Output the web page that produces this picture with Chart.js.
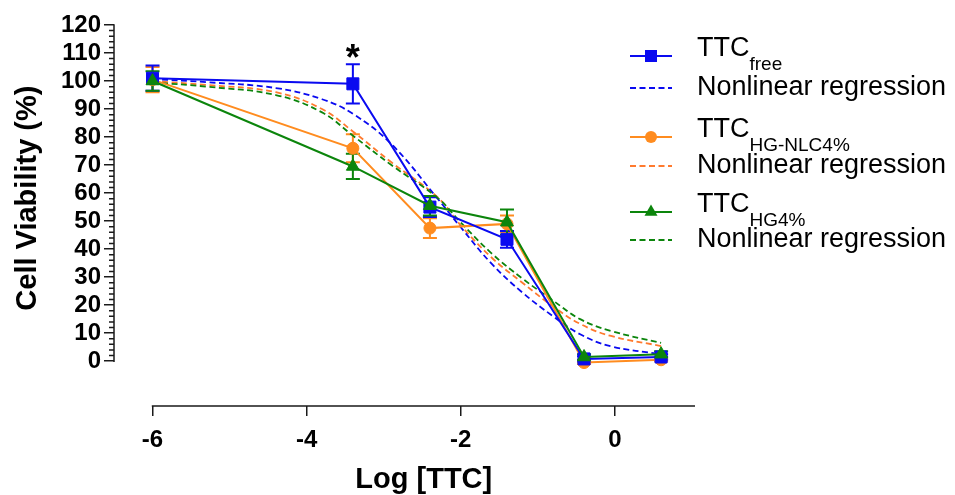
<!DOCTYPE html>
<html>
<head>
<meta charset="utf-8">
<script src="https://cdn.jsdelivr.net/npm/chart.js@4.4.1/dist/chart.umd.min.js"></script>
<style>
  html, body { margin: 0; padding: 0; background: #fff; }
  #wrap { width: 955px; height: 495px; }
</style>
</head>
<body>
<div id="wrap"><canvas id="myChart"></canvas></div>
<script>
// measured points, x = log10 of TTC concentration
const doseX = [-6, -3.4, -2.4, -1.4, -0.4, 0.6];
const freeY = [101, 99, 55, 43.5, 0.8, 1.5];
const freeErr = [4.5, 7, 3.5, 3, 1, 1];
const nlcY = [100.5, 76, 47.5, 49, -0.5, 0.5];
const nlcErr = [4.5, 5, 3.5, 3, 0.5, 0.5];
const hgY = [100, 69.5, 55.5, 49.6, 1.5, 2.5];
const hgErr = [3.5, 4.5, 3.5, 4.5, 1, 1];

// nonlinear regression curves
const fitX = [-6, -5.3, -4.4, -3.8, -3.4, -2.9, -2.3, -2.0, -1.6, -1.2, -0.8, -0.45, -0.05, 0.6];
const freeFit = [100.7, 99.6, 97.5, 93.5, 88.3, 77.5, 58, 47.8, 34.8, 24.5, 16, 9.6, 5.3, 2.5];
const nlcFit = [100, 98.6, 96, 90, 82, 71, 58.5, 48.5, 37, 28, 19.5, 13.3, 9, 5.4];
const hgFit = [99.5, 98, 95, 88.8, 80.5, 70, 58.3, 49.5, 38.5, 29.5, 21.6, 15, 10.8, 6.5];

const xTicks = [-6, -4, -2, 0];
const yTicks = [0, 10, 20, 30, 40, 50, 60, 70, 80, 90, 100, 110, 120];
const yMinorStep = 2;

const seriesNames = ["free", "HG-NLC4%", "HG4%"];
const fitName = "Nonlinear regression";
const starMarks = [{ x: -3.4, y: 106, text: "*" }];

const BLUE = "#0a0af0";
const ORANGE = "#ff8c1f";
const ORANGE_FIT = "#ff7a2e";
const GREEN = "#0c850c";
const FONT = "'Liberation Sans', Arial, sans-serif";

const pts = (xs, ys) => xs.map((x, i) => ({ x, y: ys[i] }));

const pointSet = (label, ys, err, color, style, radius) => ({
  label,
  data: pts(doseX, ys),
  err,
  borderColor: color,
  backgroundColor: color,
  borderWidth: 2,
  pointStyle: style,
  pointRadius: radius,
  pointBorderWidth: 1,
  tension: 0,
});

const fitSet = (ys, color) => ({
  label: fitName,
  data: pts(fitX, ys),
  borderColor: color,
  borderWidth: 1.8,
  borderDash: [6, 3.5],
  pointRadius: 0,
  tension: 0.4,
});

// first dataset is drawn on top
const datasets = [
  pointSet("TTC HG4%", hgY, hgErr, GREEN, "triangle", 7.5),
  pointSet("TTC free", freeY, freeErr, BLUE, "rect", 8.5),
  pointSet("TTC HG-NLC4%", nlcY, nlcErr, ORANGE, "circle", 6),
  fitSet(hgFit, GREEN),
  fitSet(freeFit, BLUE),
  fitSet(nlcFit, ORANGE_FIT),
];

const errorBars = {
  id: "errorBars",
  beforeDatasetsDraw(chart) {
    const { ctx, scales: { x, y } } = chart;
    [2, 1, 0].forEach((i) => {
      const ds = chart.data.datasets[i];
      ctx.save();
      ctx.strokeStyle = ds.borderColor;
      ctx.lineWidth = 2;
      ds.data.forEach((p, j) => {
        const e = ds.err[j];
        const px = x.getPixelForValue(p.x);
        const top = y.getPixelForValue(p.y + e);
        const bot = y.getPixelForValue(p.y - e);
        ctx.beginPath();
        ctx.moveTo(px, top);
        ctx.lineTo(px, bot);
        ctx.moveTo(px - 7, top);
        ctx.lineTo(px + 7, top);
        ctx.moveTo(px - 7, bot);
        ctx.lineTo(px + 7, bot);
        ctx.stroke();
      });
      ctx.restore();
    });
  },
};

// prism style axes: lines only over the tick range, minor ticks on y
const axisLines = {
  id: "axisLines",
  afterDraw(chart) {
    const { ctx, chartArea, scales: { x, y } } = chart;
    const y0 = y.getPixelForValue(yTicks[0]);
    const y1 = y.getPixelForValue(yTicks[yTicks.length - 1]);
    ctx.save();
    ctx.strokeStyle = "#1a1a1a";
    ctx.lineWidth = 1.5;
    ctx.beginPath();
    ctx.moveTo(chartArea.left, y0 + 0.75);
    ctx.lineTo(chartArea.left, y1 - 0.75);
    ctx.moveTo(x.getPixelForValue(xTicks[0]) - 0.75, chartArea.bottom);
    ctx.lineTo(chartArea.right, chartArea.bottom);
    for (let v = yTicks[0]; v < yTicks[yTicks.length - 1]; v += yMinorStep) {
      if (v % 10 === 0) continue;
      const py = y.getPixelForValue(v);
      ctx.moveTo(chartArea.left - 5, py);
      ctx.lineTo(chartArea.left, py);
    }
    ctx.stroke();

    // axis titles centred on the drawn axis lines
    ctx.fillStyle = "#000";
    ctx.font = `bold 29px ${FONT}`;
    ctx.textAlign = "center";
    ctx.textBaseline = "middle";
    const xMid = (x.getPixelForValue(xTicks[0]) + chartArea.right) / 2;
    ctx.fillText("Log [TTC]", xMid, 480);
    ctx.translate(28, (y0 + y1) / 2 + 5);
    ctx.rotate(-Math.PI / 2);
    ctx.fillText("Cell Viability (%)", 0, 0);
    ctx.restore();

    // significance marks
    ctx.save();
    ctx.font = `bold 36px ${FONT}`;
    ctx.textAlign = "center";
    ctx.textBaseline = "alphabetic";
    ctx.fillStyle = "#000";
    starMarks.forEach((m) => {
      ctx.fillText(m.text, x.getPixelForValue(m.x), y.getPixelForValue(m.y) + 6);
    });
    ctx.restore();
  },
};

const drawMarker = (ctx, style, color, cx, cy) => {
  ctx.fillStyle = color;
  ctx.beginPath();
  if (style === "rect") {
    ctx.rect(cx - 6, cy - 6, 12, 12);
  } else if (style === "circle") {
    ctx.arc(cx, cy, 6, 0, Math.PI * 2);
  } else {
    ctx.moveTo(cx, cy - 7.5);
    ctx.lineTo(cx + 6.5, cy + 3.75);
    ctx.lineTo(cx - 6.5, cy + 3.75);
    ctx.closePath();
  }
  ctx.fill();
};

const legendRows = [
  { name: seriesNames[0], color: BLUE, fitColor: BLUE, style: "rect", y: 56, fitY: 88 },
  { name: seriesNames[1], color: ORANGE, fitColor: ORANGE_FIT, style: "circle", y: 137, fitY: 166 },
  { name: seriesNames[2], color: GREEN, fitColor: GREEN, style: "triangle", y: 212, fitY: 240 },
];

const customLegend = {
  id: "customLegend",
  afterDraw(chart) {
    const { ctx, chartArea } = chart;
    const lx0 = chartArea.right - 65;
    const lx1 = chartArea.right - 23;
    const tx = chartArea.right + 2;
    ctx.save();
    legendRows.forEach((r) => {
      ctx.strokeStyle = r.color;
      ctx.lineWidth = 2;
      ctx.setLineDash([]);
      ctx.beginPath();
      ctx.moveTo(lx0, r.y);
      ctx.lineTo(lx1, r.y);
      ctx.stroke();
      drawMarker(ctx, r.style, r.color, (lx0 + lx1) / 2, r.y);

      ctx.strokeStyle = r.fitColor;
      ctx.setLineDash([6, 3.5]);
      ctx.beginPath();
      ctx.moveTo(lx0, r.fitY);
      ctx.lineTo(lx1, r.fitY);
      ctx.stroke();

      ctx.fillStyle = "#000";
      ctx.textAlign = "left";
      ctx.textBaseline = "alphabetic";
      const base = r.y - 10 + 9.5;
      ctx.font = `27px ${FONT}`;
      ctx.fillText("TTC", tx, base);
      const w = ctx.measureText("TTC").width;
      ctx.font = `19px ${FONT}`;
      ctx.fillText(r.name, tx + w, base + 14);

      ctx.font = `27px ${FONT}`;
      ctx.textBaseline = "middle";
      ctx.fillText(fitName, tx, r.fitY);
    });
    ctx.restore();
  },
};

new Chart(document.getElementById("myChart"), {
  type: "line",
  data: { datasets },
  plugins: [errorBars, axisLines, customLegend],
  options: {
    responsive: true,
    maintainAspectRatio: false,
    animation: false,
    layout: { padding: { left: 0, right: 260, top: 25, bottom: 0 } },
    plugins: { legend: { display: false }, tooltip: { enabled: false } },
    scales: {
      x: {
        type: "linear",
        min: -6.5,
        max: 1.04,
        afterBuildTicks: (s) => { s.ticks = xTicks.map((v) => ({ value: v })); },
        afterFit: (s) => { s.height = 89; },
        border: { display: false },
        grid: { drawOnChartArea: false, drawTicks: true, tickLength: 10, color: "#1a1a1a", lineWidth: 1.5 },
        ticks: { color: "#000", font: { family: FONT, size: 24, weight: "bold" }, padding: 10, autoSkip: false, maxRotation: 0 },
      },
      y: {
        type: "linear",
        min: -16,
        max: 120,
        afterBuildTicks: (s) => { s.ticks = yTicks.map((v) => ({ value: v })); },
        afterFit: (s) => { s.width = 114; },
        border: { display: false },
        grid: { drawOnChartArea: false, drawTicks: true, tickLength: 10, color: "#1a1a1a", lineWidth: 1.5 },
        ticks: { color: "#000", font: { family: FONT, size: 24, weight: "bold" }, padding: 3, autoSkip: false },
      },
    },
  },
});
</script>
</body>
</html>
